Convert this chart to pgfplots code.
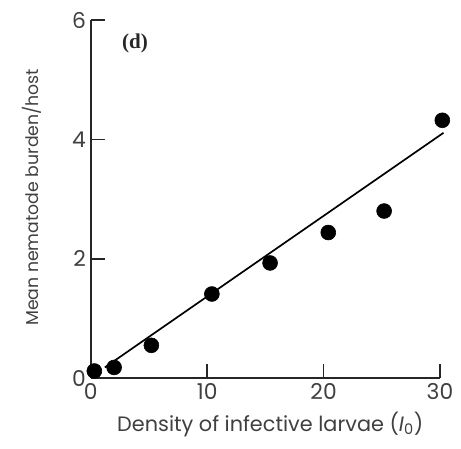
\documentclass[border=0pt]{standalone}
\usepackage{fontspec}
\setmainfont{Poppins}
\newfontfamily\seriffont{Liberation Serif}
\usepackage{pgfplots}
\pgfplotsset{compat=1.18}

\begin{document}
\begin{tikzpicture}
\begin{axis}[
    width=8.725cm, height=8.95cm,
    scale only axis,
    xmin=0, xmax=30, ymin=0, ymax=6,
    axis lines*=left,
    axis line style={line width=1.3pt, black!85},
    xtick={0,10,20,30}, ytick={0,2,4,6},
    tick align=inside,
    major tick length=0.36cm,
    tick style={line width=1.2pt, black!85},
    ticklabel style={font=\fontsize{15.5}{18}\selectfont, text=black!75},
    /pgf/number format/assume math mode=true,
    xlabel={Density of infective larvae ({\itshape I}\textsubscript{0})},
    ylabel={Mean nematode burden/host},
    every axis x label/.style={at={(axis description cs:0.514,-0.128)}, anchor=center,
        font=\fontsize{14.8}{17}\selectfont, text=black!75},
    every axis y label/.style={at={(axis description cs:-0.168,0.505)}, rotate=90, anchor=center,
        font=\fontsize{12.3}{15}\selectfont, text=black!75},
    clip=false,
]
% fitted line
\addplot[no marks, line width=1.2pt, black] coordinates {(1.2,0.18) (30.3,4.11)};
% observations
\addplot[only marks, mark=*, mark size=5.3pt, black] coordinates {
    (0.3,0.12) (2.0,0.18) (5.2,0.55) (10.4,1.41) (15.4,1.93)
    (20.4,2.44) (25.2,2.80) (30.2,4.32)
};
\node[font=\seriffont\bfseries\fontsize{15}{17}\selectfont, text=black!85] at (axis cs:3.8,5.6) {(d)};
\end{axis}
\path (-2.27,-1.75) rectangle (9.25,9.45);
\end{tikzpicture}
\end{document}
